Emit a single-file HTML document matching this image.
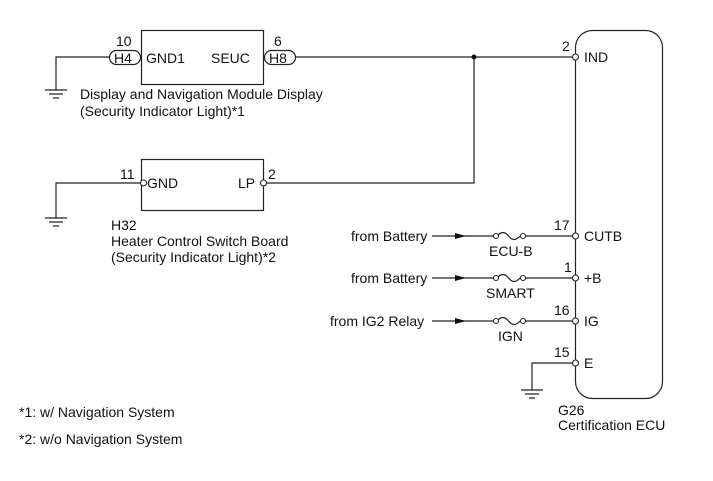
<!DOCTYPE html>
<html><head><meta charset="utf-8"><style>
html,body{margin:0;padding:0;background:#fff;}
svg{display:block;}
text{font-family:"Liberation Sans",Arial,sans-serif;font-size:14px;fill:#111;}
</style></head><body>
<svg width="713" height="481" viewBox="0 0 713 481" xmlns="http://www.w3.org/2000/svg">
<g stroke="#222" stroke-width="1.2" fill="none">
<rect x="575.5" y="30.5" width="87" height="368" rx="17" ry="17"/>
<rect x="141.5" y="30.5" width="122" height="54"/>
<rect x="141.5" y="159.5" width="122" height="51"/>
<rect x="109.5" y="50.5" width="31" height="14" rx="7"/>
<rect x="264.5" y="50.5" width="31" height="14" rx="7"/>
<path d="M109 57 H56 V90"/>
<path d="M296 57 H572"/>
<path d="M474 57 V183 H266"/>
<path d="M140 183 H56 V218"/>
<path d="M572 363 H532 V390"/>
<path d="M45 90 H67 M49 94 H63 M53 98 H59"/>
<path d="M45 218 H67 M49 222 H63 M53 226 H59"/>
<path d="M521 390 H543 M525 394 H539 M529 398 H535"/>
<path d="M432 236 H494 M523 236 H572"/>
<path d="M432 278 H494 M523 278 H572"/>
<path d="M432 321 H494 M523 321 H572"/>
<path d="M500 236 q6 -7 11.5 0 t11.5 0" transform="translate(-3,0)"/>
<path d="M500 278 q6 -7 11.5 0 t11.5 0" transform="translate(-3,0)"/>
<path d="M500 321 q6 -7 11.5 0 t11.5 0" transform="translate(-3,0)"/>
</g>
<g fill="#fff" stroke="#222" stroke-width="1.1">
<circle cx="575.5" cy="57" r="3"/>
<circle cx="575.5" cy="236" r="3"/>
<circle cx="575.5" cy="278" r="3"/>
<circle cx="575.5" cy="321" r="3"/>
<circle cx="575.5" cy="363" r="3"/>
<circle cx="143.5" cy="183" r="3"/>
<circle cx="263.5" cy="183" r="3"/>
<circle cx="496" cy="236" r="2.5"/><circle cx="523" cy="236" r="2.5"/>
<circle cx="496" cy="278" r="2.5"/><circle cx="523" cy="278" r="2.5"/>
<circle cx="496" cy="321" r="2.5"/><circle cx="523" cy="321" r="2.5"/>
</g>
<circle cx="474" cy="57" r="2.5" fill="#111"/>
<g fill="#111">
<path d="M455 233 L466 236 L455 239 Z"/>
<path d="M455 275 L466 278 L455 281 Z"/>
<path d="M455 318 L466 321 L455 324 Z"/>
</g>
<text x="116" y="46">10</text>
<text x="114" y="63">H4</text>
<text x="146" y="63">GND1</text>
<text x="211" y="63">SEUC</text>
<text x="274" y="46">6</text>
<text x="269" y="63">H8</text>
<text x="80" y="99">Display and Navigation Module Display</text>
<text x="80" y="116">(Security Indicator Light)*1</text>
<text x="120" y="179">11</text>
<text x="147" y="188">GND</text>
<text x="238" y="188">LP</text>
<text x="268" y="179">2</text>
<text x="111" y="230">H32</text>
<text x="111" y="246">Heater Control Switch Board</text>
<text x="111" y="262">(Security Indicator Light)*2</text>
<text x="562" y="51">2</text>
<text x="584" y="62">IND</text>
<text x="554" y="230">17</text>
<text x="584" y="241">CUTB</text>
<text x="564" y="272">1</text>
<text x="584" y="283">+B</text>
<text x="554" y="315">16</text>
<text x="584" y="326">IG</text>
<text x="554" y="357">15</text>
<text x="584" y="368">E</text>
<text x="351" y="241">from Battery</text>
<text x="351" y="283">from Battery</text>
<text x="330" y="326">from IG2 Relay</text>
<text x="489" y="256">ECU-B</text>
<text x="486" y="298">SMART</text>
<text x="498" y="341">IGN</text>
<text x="558" y="415">G26</text>
<text x="558" y="430">Certification ECU</text>
<text x="19" y="417">*1: w/ Navigation System</text>
<text x="19" y="444">*2: w/o Navigation System</text>
</svg>
</body></html>
